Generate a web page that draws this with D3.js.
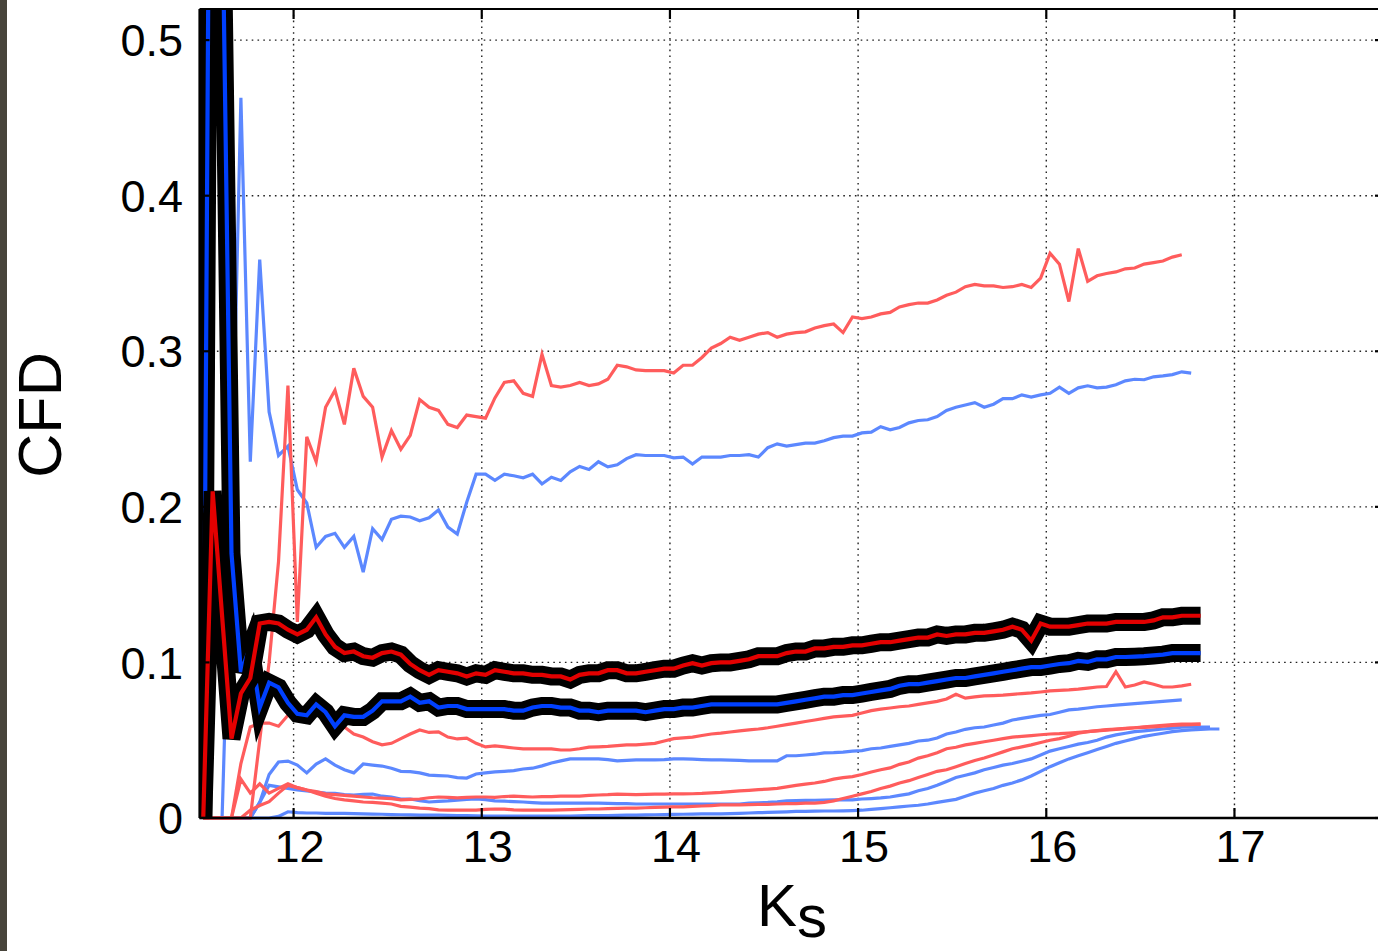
<!DOCTYPE html>
<html>
<head>
<meta charset="utf-8">
<script src="https://cdn.jsdelivr.net/npm/d3@7"></script>
<style>
  html, body { margin: 0; padding: 0; background: #fff; }
  svg { display: block; }
  text { font-family: "Liberation Sans", Arial, Helvetica, sans-serif; fill: #000; }
</style>
</head>
<body>
<svg id="chart" width="1378" height="951"></svg>
<script>
// Ks sampling: every series is sampled on the same grid, starting at ksStart, one value per ksStep.
const ksStart = 11.52;
const ksStep = 0.05;

const xTicks = [12, 13, 14, 15, 16, 17];
const xTickLabels = ["12", "13", "14", "15", "16", "17"];
const yTicks = [0, 0.1, 0.2, 0.3, 0.4, 0.5];
const yTickLabels = ["0", "0.1", "0.2", "0.3", "0.4", "0.5"];

// Thick outlined curves
const mainRed = [
  0, 0.21, 0.13, 0.051, 0.080, 0.090, 0.125, 0.126, 0.125, 0.121,
  0.118, 0.121, 0.129, 0.118, 0.110, 0.106, 0.107, 0.104, 0.103, 0.106,
  0.107, 0.105, 0.099, 0.095, 0.092, 0.095, 0.094, 0.093, 0.091, 0.093,
  0.092, 0.095, 0.094, 0.093, 0.093, 0.092, 0.092, 0.091, 0.091, 0.089,
  0.092, 0.093, 0.093, 0.095, 0.095, 0.093, 0.093, 0.094, 0.095, 0.096,
  0.096, 0.098, 0.0995, 0.098, 0.0995, 0.100, 0.100, 0.101, 0.102, 0.104,
  0.104, 0.104, 0.106, 0.107, 0.107, 0.109, 0.109, 0.110, 0.110, 0.111,
  0.111, 0.112, 0.113, 0.113, 0.114, 0.115, 0.116, 0.116, 0.118, 0.117,
  0.118, 0.118, 0.119, 0.119, 0.120, 0.121, 0.123, 0.121, 0.114, 0.125,
  0.123, 0.123, 0.123, 0.124, 0.125, 0.125, 0.125, 0.126, 0.126, 0.126,
  0.126, 0.127, 0.129, 0.129, 0.130, 0.130, 0.130
];
const mainBlue = [
  0, 1.0, 0.6, 0.17, 0.094, 0.110, 0.071, 0.087, 0.084, 0.074,
  0.067, 0.066, 0.073, 0.068, 0.059, 0.066, 0.065, 0.065, 0.069, 0.075,
  0.075, 0.075, 0.078, 0.074, 0.075, 0.071, 0.072, 0.072, 0.070, 0.070,
  0.070, 0.070, 0.070, 0.069, 0.069, 0.071, 0.072, 0.072, 0.071, 0.071,
  0.069, 0.069, 0.068, 0.069, 0.069, 0.069, 0.069, 0.068, 0.069, 0.070,
  0.070, 0.071, 0.071, 0.072, 0.073, 0.073, 0.073, 0.073, 0.073, 0.073,
  0.073, 0.073, 0.074, 0.075, 0.076, 0.077, 0.078, 0.078, 0.079, 0.079,
  0.080, 0.081, 0.082, 0.083, 0.085, 0.086, 0.086, 0.087, 0.088, 0.089,
  0.090, 0.090, 0.091, 0.092, 0.093, 0.094, 0.095, 0.096, 0.097, 0.097,
  0.098, 0.099, 0.0995, 0.101, 0.1003, 0.102, 0.102, 0.1035, 0.1035, 0.1037,
  0.104, 0.1045, 0.105, 0.106, 0.106, 0.106, 0.106
];

// Light red curves
const red1 = [
  0, 0, 0, 0, 0, 0, 0.05, 0.10, 0.165, 0.278,
  0.126, 0.245, 0.229, 0.264, 0.275, 0.253, 0.289, 0.271, 0.264, 0.232,
  0.249, 0.237, 0.246, 0.269, 0.264, 0.262, 0.253, 0.251, 0.259, 0.258,
  0.257, 0.270, 0.280, 0.281, 0.273, 0.271, 0.298, 0.278, 0.277, 0.278,
  0.280, 0.278, 0.279, 0.282, 0.291, 0.290, 0.288, 0.2875, 0.2875, 0.2875,
  0.286, 0.291, 0.291, 0.296, 0.302, 0.305, 0.309, 0.307, 0.309, 0.311,
  0.312, 0.309, 0.311, 0.312, 0.3125, 0.315, 0.3165, 0.3175, 0.312, 0.322,
  0.321, 0.322, 0.324, 0.325, 0.3285, 0.330, 0.331, 0.331, 0.333, 0.336,
  0.338, 0.3415, 0.343, 0.342, 0.342, 0.341, 0.3415, 0.343, 0.341, 0.347,
  0.363, 0.356, 0.332, 0.366, 0.345, 0.3485, 0.350, 0.351, 0.353, 0.3535,
  0.356, 0.357, 0.358, 0.3605, 0.362
];
const red2 = [
  0, 0, 0, 0, 0.035, 0.0585, 0.061, 0.061, 0.059, 0.066,
  0.068, 0.070, 0.068, 0.066, 0.063, 0.0585, 0.054, 0.052, 0.049, 0.047,
  0.048, 0.051, 0.054, 0.0566, 0.055, 0.0553, 0.052, 0.0508, 0.0514, 0.048,
  0.0457, 0.0463, 0.0457, 0.045, 0.0444, 0.0444, 0.0444, 0.0444, 0.0437, 0.0437,
  0.0445, 0.0455, 0.0457, 0.046, 0.0465, 0.047, 0.047, 0.0475, 0.048, 0.0495,
  0.051, 0.0515, 0.052, 0.053, 0.054, 0.0545, 0.0553, 0.056, 0.0566, 0.0572,
  0.058, 0.059, 0.060, 0.061, 0.062, 0.063, 0.064, 0.065, 0.0655, 0.066,
  0.0675, 0.069, 0.070, 0.0707, 0.0715, 0.072, 0.073, 0.074, 0.075, 0.0765,
  0.0795, 0.077, 0.0778, 0.0785, 0.0787, 0.079, 0.0795, 0.080, 0.0804, 0.081,
  0.0817, 0.082, 0.0823, 0.0828, 0.0835, 0.0842, 0.0845, 0.094, 0.0842, 0.0855,
  0.0875, 0.086, 0.0842, 0.0842, 0.0849, 0.086
];
const red3 = [
  0, 0, 0, 0, 0.025, 0.016, 0.022, 0.016, 0.019, 0.022,
  0.0195, 0.018, 0.017, 0.0155, 0.015, 0.0145, 0.014, 0.0135, 0.013, 0.0128,
  0.0125, 0.0116, 0.012, 0.0122, 0.013, 0.0135, 0.0132, 0.0129, 0.0132, 0.0135,
  0.0135, 0.0133, 0.0138, 0.0141, 0.0138, 0.0135, 0.0138, 0.0138, 0.014, 0.0141,
  0.0141, 0.0145, 0.0148, 0.015, 0.0154, 0.0152, 0.015, 0.0152, 0.0154, 0.0154,
  0.0155, 0.0155, 0.0156, 0.0158, 0.0162, 0.0165, 0.017, 0.0174, 0.0178, 0.0182,
  0.0186, 0.019, 0.020, 0.021, 0.0218, 0.0225, 0.0235, 0.025, 0.026, 0.0266,
  0.028, 0.0296, 0.031, 0.0322, 0.0345, 0.036, 0.0385, 0.040, 0.042, 0.0445,
  0.0455, 0.047, 0.048, 0.049, 0.050, 0.051, 0.052, 0.0525, 0.053, 0.0535,
  0.054, 0.0542, 0.0546, 0.055, 0.0555, 0.056, 0.0565, 0.057, 0.0575, 0.058,
  0.0583, 0.0586, 0.059, 0.0595, 0.0598, 0.060, 0.0604
];
const red4 = [
  0, 0, 0, 0, 0, 0.005, 0.008, 0.0105, 0.016, 0.021,
  0.0195, 0.018, 0.016, 0.014, 0.0125, 0.0116, 0.011, 0.0103, 0.010, 0.0096,
  0.009, 0.0075, 0.007, 0.0064, 0.006, 0.0052, 0.0051, 0.0051, 0.0051, 0.0051,
  0.0055, 0.0058, 0.0057, 0.0052, 0.0051, 0.0051, 0.0051, 0.0051, 0.0052, 0.0054,
  0.0056, 0.0058, 0.0058, 0.006, 0.0062, 0.0064, 0.0064, 0.0066, 0.0068, 0.007,
  0.0071, 0.0072, 0.0075, 0.0077, 0.008, 0.0084, 0.0084, 0.0085, 0.0086, 0.0087,
  0.0088, 0.009, 0.0092, 0.0093, 0.0095, 0.0096, 0.010, 0.011, 0.0125, 0.014,
  0.0155, 0.017, 0.019, 0.0205, 0.0225, 0.024, 0.026, 0.028, 0.030, 0.031,
  0.033, 0.035, 0.037, 0.0386, 0.0405, 0.0425, 0.0445, 0.0457, 0.047, 0.0485,
  0.050, 0.051, 0.0525, 0.0545, 0.0555, 0.0562, 0.0568, 0.0572, 0.0576, 0.058,
  0.0586, 0.059, 0.0595, 0.060, 0.0604, 0.0604, 0.0604
];

// Light blue curves
const blue1 = [
  0, 0, 0, 0.2, 0.463, 0.229, 0.359, 0.261, 0.233, 0.239,
  0.211, 0.2025, 0.174, 0.181, 0.183, 0.174, 0.181, 0.158, 0.186, 0.179,
  0.192, 0.194, 0.1935, 0.191, 0.193, 0.198, 0.187, 0.1825, 0.203, 0.221,
  0.221, 0.217, 0.221, 0.220, 0.2187, 0.221, 0.2147, 0.219, 0.217, 0.2225,
  0.226, 0.224, 0.229, 0.2257, 0.227, 0.231, 0.2335, 0.233, 0.233, 0.233,
  0.2315, 0.232, 0.2275, 0.232, 0.232, 0.232, 0.233, 0.233, 0.2335, 0.232,
  0.238, 0.2405, 0.239, 0.240, 0.241, 0.241, 0.2425, 0.2445, 0.2455, 0.2455,
  0.2475, 0.248, 0.2515, 0.2495, 0.251, 0.254, 0.2555, 0.256, 0.258, 0.262,
  0.264, 0.2655, 0.267, 0.264, 0.266, 0.2695, 0.2695, 0.272, 0.2705, 0.272,
  0.273, 0.277, 0.273, 0.2765, 0.2778, 0.2765, 0.277, 0.2785, 0.281, 0.282,
  0.2817, 0.2836, 0.2842, 0.285, 0.2868, 0.286
];
const blue2 = [
  0, 0, 0, 0, 0, 0, 0.01, 0.028, 0.036, 0.0366,
  0.034, 0.029, 0.0347, 0.038, 0.034, 0.031, 0.029, 0.0347, 0.034, 0.0334,
  0.032, 0.030, 0.0298, 0.029, 0.0276, 0.0273, 0.027, 0.026, 0.0257, 0.0283,
  0.029, 0.0296, 0.030, 0.0305, 0.0315, 0.032, 0.0335, 0.0354, 0.0367, 0.038,
  0.038, 0.038, 0.038, 0.0375, 0.0367, 0.037, 0.0373, 0.0373, 0.0373, 0.0375,
  0.038, 0.038, 0.0378, 0.0375, 0.0373, 0.0373, 0.0372, 0.037, 0.0367, 0.0367,
  0.0367, 0.0367, 0.040, 0.040, 0.0405, 0.041, 0.0418, 0.042, 0.0424, 0.043,
  0.0433, 0.0445, 0.045, 0.046, 0.047, 0.048, 0.0495, 0.050, 0.0514, 0.054,
  0.0553, 0.057, 0.058, 0.0585, 0.0598, 0.061, 0.063, 0.064, 0.065, 0.066,
  0.0665, 0.068, 0.0695, 0.070, 0.0707, 0.0715, 0.072, 0.0725, 0.073, 0.0735,
  0.074, 0.0745, 0.075, 0.0755, 0.0759
];
const blue3 = [
  0, 0, 0, 0, 0, 0, 0.010, 0.021, 0.020, 0.019,
  0.018, 0.0174, 0.0167, 0.016, 0.0158, 0.015, 0.0148, 0.0152, 0.0154, 0.014,
  0.0135, 0.0122, 0.0122, 0.0112, 0.0103, 0.0107, 0.011, 0.0115, 0.012, 0.0122,
  0.0118, 0.011, 0.0108, 0.0105, 0.0103, 0.0099, 0.0096, 0.0096, 0.0096, 0.0096,
  0.0096, 0.0096, 0.0095, 0.0094, 0.0093, 0.0092, 0.009, 0.009, 0.009, 0.009,
  0.009, 0.009, 0.009, 0.009, 0.009, 0.009, 0.009, 0.009, 0.0096, 0.0098,
  0.010, 0.0104, 0.011, 0.0112, 0.0113, 0.0114, 0.0115, 0.0116, 0.0116, 0.0117,
  0.0122, 0.0125, 0.0129, 0.0135, 0.0145, 0.0155, 0.0175, 0.019, 0.021, 0.0235,
  0.026, 0.0275, 0.029, 0.031, 0.0325, 0.034, 0.035, 0.0365, 0.038, 0.0405,
  0.043, 0.0445, 0.046, 0.0475, 0.0485, 0.050, 0.052, 0.0534, 0.0545, 0.0555,
  0.056, 0.0566, 0.0572, 0.0578, 0.0584, 0.0585, 0.0585, 0.0585
];
const blue4 = [
  0, 0, 0, 0, 0, 0, 0, 0, 0.001, 0.004,
  0.0035, 0.0032, 0.0032, 0.003, 0.003, 0.003, 0.0028, 0.0026, 0.0025, 0.0024,
  0.0022, 0.0021, 0.002, 0.0019, 0.0019, 0.0018, 0.0017, 0.0016, 0.0015, 0.0014,
  0.0013, 0.0013, 0.0013, 0.0013, 0.0013, 0.0013, 0.0013, 0.0013, 0.0013, 0.0013,
  0.0014, 0.0015, 0.0015, 0.0016, 0.0017, 0.0018, 0.0019, 0.002, 0.0021, 0.0022,
  0.0023, 0.0024, 0.0025, 0.0026, 0.0026, 0.0027, 0.0028, 0.003, 0.0032, 0.0034,
  0.0036, 0.0038, 0.004, 0.0042, 0.0043, 0.0044, 0.0045, 0.0045, 0.0046, 0.0048,
  0.005, 0.0055, 0.006, 0.0066, 0.0072, 0.0077, 0.0082, 0.009, 0.010, 0.011,
  0.012, 0.014, 0.016, 0.0175, 0.019, 0.021, 0.0225, 0.0245, 0.027, 0.030,
  0.033, 0.0355, 0.038, 0.040, 0.042, 0.044, 0.046, 0.048, 0.0495, 0.051,
  0.0525, 0.0535, 0.0545, 0.0555, 0.0562, 0.0566, 0.057, 0.0572, 0.0572
];

const lightBlueSeries = [blue1, blue2, blue3, blue4];
const lightRedSeries = [red1, red2, red3, red4];

const W = 1378, H = 951;
const plot = { left: 199.5, right: 1385, top: 9, bottom: 818 };

const svg = d3.select("#chart");

const x = d3.scaleLinear().domain([11.5, 17.8]).range([plot.left, plot.right]);
const y = d3.scaleLinear().domain([0, 0.52]).range([plot.bottom, plot.top]);

const toPoints = vals => vals.map((v, i) => ({ k: ksStart + i * ksStep, v }));
const line = d3.line()
  .defined(d => d.v != null)
  .x(d => x(d.k))
  .y(d => y(d.v));

// dark strip along the left edge
svg.append("rect")
  .attr("x", 0).attr("y", 0).attr("width", 7).attr("height", H)
  .attr("fill", "#48443b");

svg.append("defs").append("clipPath").attr("id", "plotClip")
  .append("rect")
  .attr("x", plot.left).attr("y", plot.top)
  .attr("width", plot.right - plot.left)
  .attr("height", plot.bottom - plot.top + 6);

// dotted grid
const grid = svg.append("g")
  .attr("stroke", "#222")
  .attr("stroke-width", 1.4)
  .attr("stroke-dasharray", "1.6,4.2");
grid.selectAll("line.vx").data(xTicks).join("line")
  .attr("x1", d => x(d)).attr("x2", d => x(d))
  .attr("y1", plot.top).attr("y2", plot.bottom);
grid.selectAll("line.hy").data(yTicks.filter(t => t > 0)).join("line")
  .attr("x1", plot.left).attr("x2", plot.right)
  .attr("y1", d => y(d)).attr("y2", d => y(d));

const curves = svg.append("g").attr("clip-path", "url(#plotClip)")
  .attr("fill", "none");

curves.selectAll("path.lb").data(lightBlueSeries).join("path")
  .attr("d", d => line(toPoints(d)))
  .attr("stroke", "#5c88ff")
  .attr("stroke-width", 3.2);

curves.selectAll("path.lr").data(lightRedSeries).join("path")
  .attr("d", d => line(toPoints(d)))
  .attr("stroke", "#ff5c5c")
  .attr("stroke-width", 3.2);

function outlined(vals, color) {
  const d = line(toPoints(vals));
  curves.append("path").attr("d", d)
    .attr("stroke", "#000").attr("stroke-width", 18)
    .attr("stroke-linejoin", "miter").attr("stroke-miterlimit", 4);
  curves.append("path").attr("d", d)
    .attr("stroke", color).attr("stroke-width", 4.2)
    .attr("stroke-linejoin", "miter");
}
outlined(mainBlue, "#0040ff");
outlined(mainRed, "#e30000");

// frame
const frame = svg.append("g").attr("stroke", "#000").attr("fill", "none");
frame.append("line").attr("x1", plot.left).attr("x2", W).attr("y1", plot.top).attr("y2", plot.top).attr("stroke-width", 2.2);
frame.append("line").attr("x1", plot.left).attr("x2", W).attr("y1", plot.bottom).attr("y2", plot.bottom).attr("stroke-width", 2.4);
frame.append("line").attr("x1", plot.left).attr("x2", plot.left).attr("y1", plot.top).attr("y2", plot.bottom).attr("stroke-width", 2.2);
frame.append("line").attr("x1", plot.right).attr("x2", plot.right).attr("y1", plot.top).attr("y2", plot.bottom).attr("stroke-width", 2.2);

// inward tick marks on all four sides
const tickLen = 10;
xTicks.forEach(t => {
  frame.append("line").attr("x1", x(t)).attr("x2", x(t)).attr("y1", plot.bottom).attr("y2", plot.bottom - tickLen).attr("stroke-width", 2.2);
  frame.append("line").attr("x1", x(t)).attr("x2", x(t)).attr("y1", plot.top).attr("y2", plot.top + tickLen).attr("stroke-width", 2.2);
});
yTicks.forEach(t => {
  frame.append("line").attr("x1", plot.left).attr("x2", plot.left + tickLen).attr("y1", y(t)).attr("y2", y(t)).attr("stroke-width", 2.2);
  frame.append("line").attr("x1", plot.right).attr("x2", plot.right - tickLen).attr("y1", y(t)).attr("y2", y(t)).attr("stroke-width", 2.2);
});

// tick labels
svg.append("g").selectAll("text").data(xTicks).join("text")
  .attr("x", d => x(d) + 6)
  .attr("y", 862)
  .attr("text-anchor", "middle")
  .attr("font-size", 45)
  .text((d, i) => xTickLabels[i]);

svg.append("g").selectAll("text").data(yTicks).join("text")
  .attr("x", 183)
  .attr("y", d => y(d))
  .attr("dy", "0.36em")
  .attr("text-anchor", "end")
  .attr("font-size", 45)
  .text((d, i) => yTickLabels[i]);

// axis titles
svg.append("text")
  .attr("transform", "translate(61,415) rotate(-90)")
  .attr("text-anchor", "middle")
  .attr("font-size", 61)
  .text("CFD");

const xt = svg.append("text")
  .attr("x", 792).attr("y", 926)
  .attr("text-anchor", "middle")
  .attr("font-size", 60);
xt.append("tspan").text("K");
xt.append("tspan").attr("dy", 11).text("s");
</script>
</body>
</html>
